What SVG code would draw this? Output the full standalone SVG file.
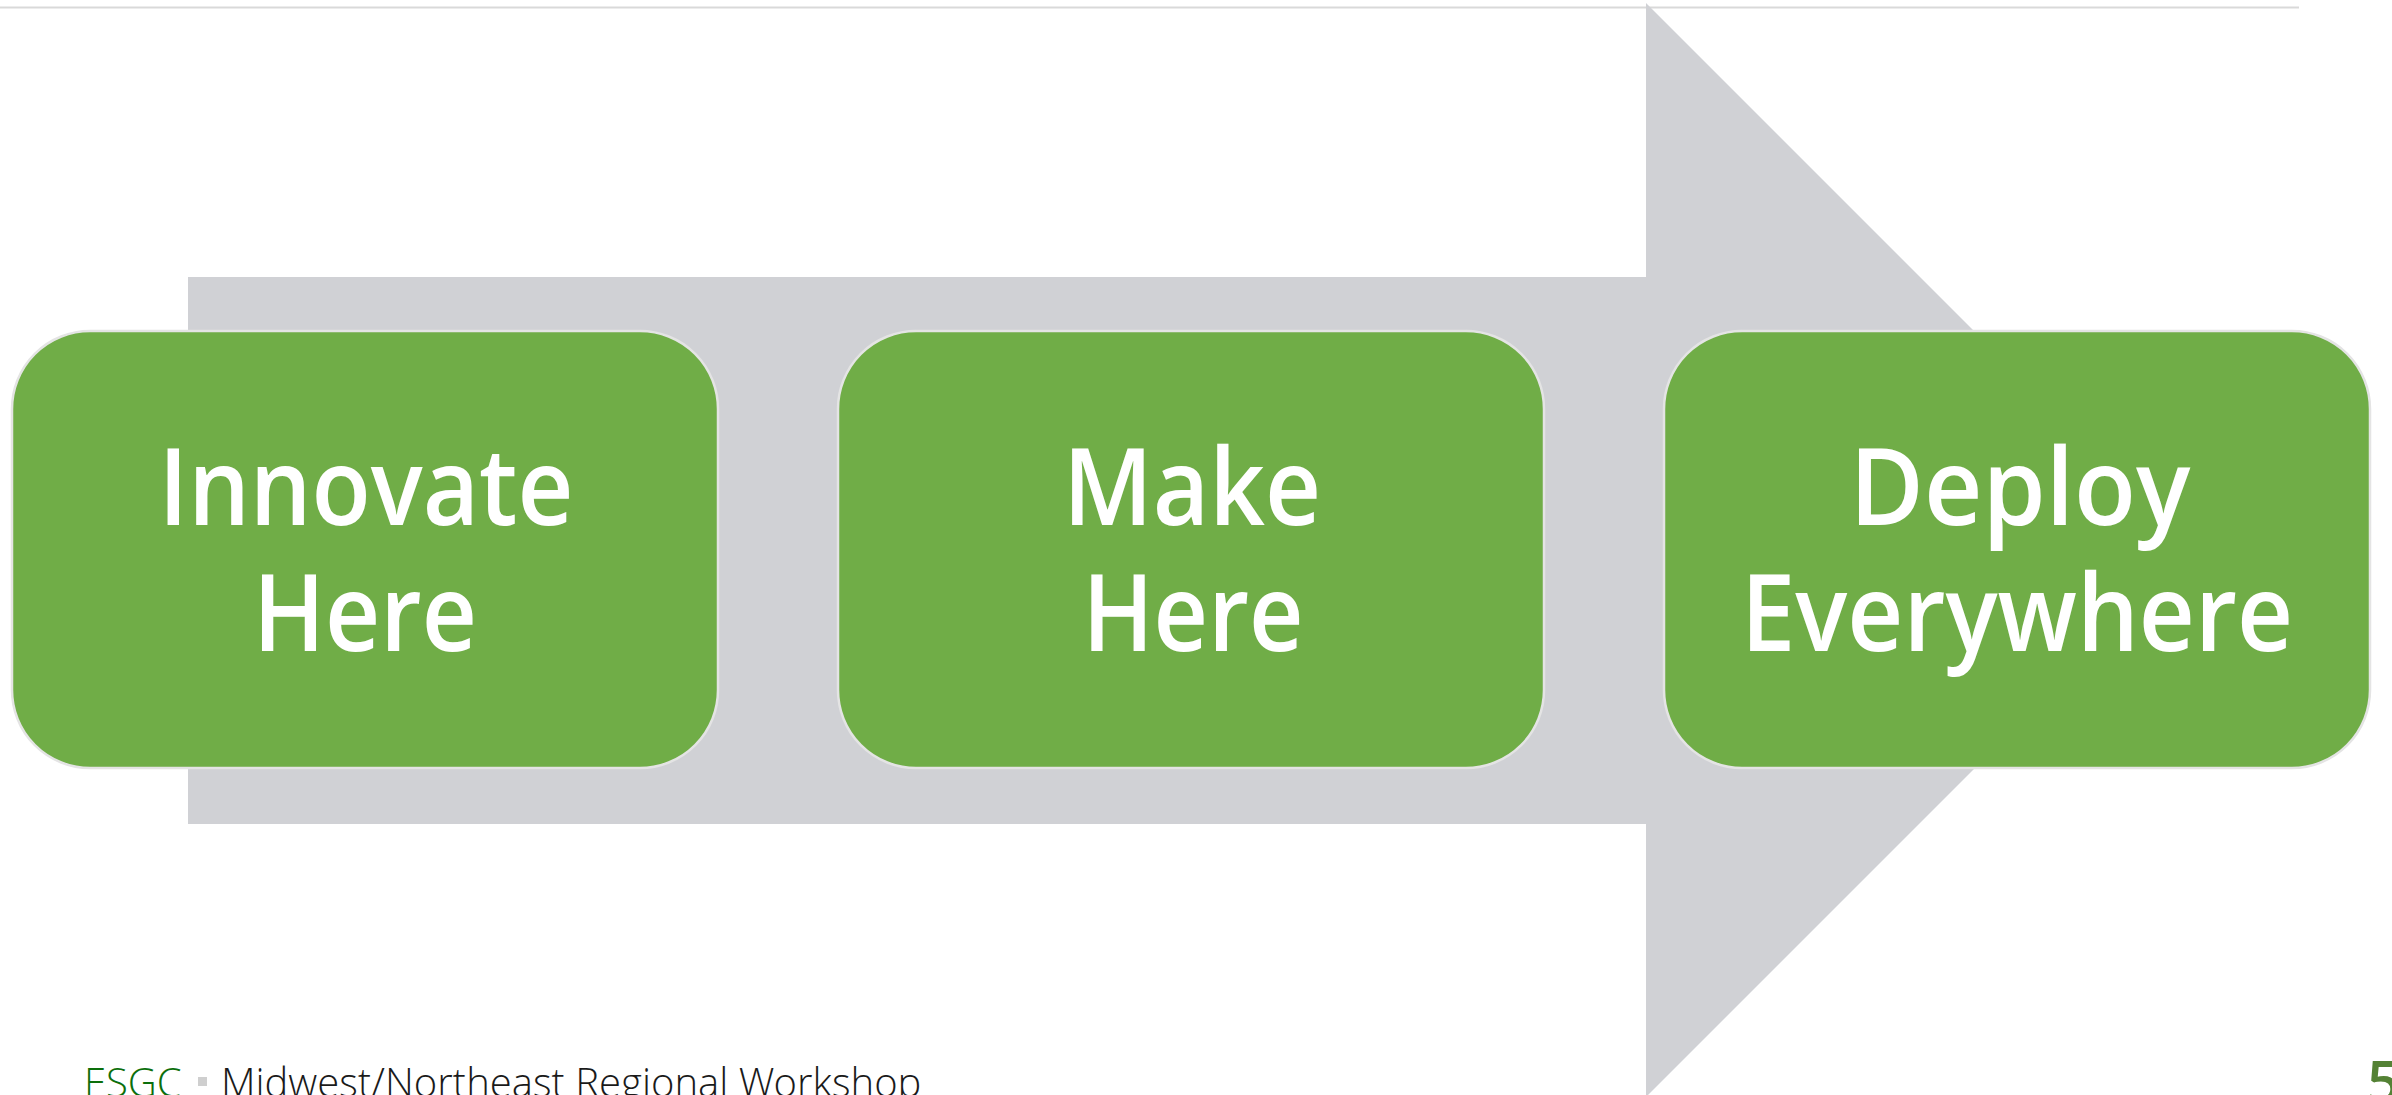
<svg xmlns="http://www.w3.org/2000/svg" width="2392" height="1095" viewBox="0 0 2392 1095">
  <style>
    .step { fill: #70AD47; stroke: #E4E4E4; stroke-width: 2.5; }
    .label { font-family: "Open Sans", "Noto Sans", "DejaVu Sans", sans-serif; font-weight: 600; font-size: 107px; fill: #FFFFFF; text-anchor: middle; }
    .footer { font-family: "Open Sans Light", "Lato Light", "Open Sans", "Noto Sans", sans-serif; font-weight: 300; font-size: 40px; }
  </style>

  <rect x="0" y="0" width="2392" height="1095" fill="#FFFFFF"/>

  <!-- header rule -->
  <line x1="0" y1="7.5" x2="2299" y2="7.5" stroke="#D9D9D9" stroke-width="2"/>

  <!-- background process arrow -->
  <g id="connectors">
    <path id="process-arrow" d="M188 277 H1646 V3 L2193 550 L1646 1097 V824 H188 Z" fill="#D0D1D5"/>
  </g>

  <g id="step-innovate">
    <rect class="step" x="12" y="331" width="706" height="437" rx="78" ry="78"/>
    <text class="label" x="366" y="525" textLength="415" lengthAdjust="spacingAndGlyphs">Innovate</text>
    <text class="label" x="365" y="651" textLength="224" lengthAdjust="spacingAndGlyphs">Here</text>
  </g>

  <g id="step-make">
    <rect class="step" x="838" y="331" width="706" height="437" rx="78" ry="78"/>
    <text class="label" x="1192" y="525" textLength="258" lengthAdjust="spacingAndGlyphs">Make</text>
    <text class="label" x="1193" y="651" textLength="221" lengthAdjust="spacingAndGlyphs">Here</text>
  </g>

  <g id="step-deploy">
    <rect class="step" x="1664" y="331" width="706" height="437" rx="78" ry="78"/>
    <text class="label" x="2020" y="525" textLength="341" lengthAdjust="spacingAndGlyphs">Deploy</text>
    <text class="label" x="2017" y="651" textLength="552" lengthAdjust="spacingAndGlyphs">Everywhere</text>
  </g>

  <!-- footer -->
  <g id="footer">
    <text class="footer" x="84" y="1097" fill="#0C6F0C">ESGC</text>
    <rect x="198" y="1077" width="9" height="9" fill="#CFCFCF"/>
    <text class="footer" x="221" y="1097" fill="#1A1A1A">Midwest/Northeast Regional Workshop</text>
    <text x="2367" y="1102" font-family="'Open Sans', 'Noto Sans', sans-serif" font-weight="600" font-size="58" fill="#548235">5</text>
  </g>
</svg>
